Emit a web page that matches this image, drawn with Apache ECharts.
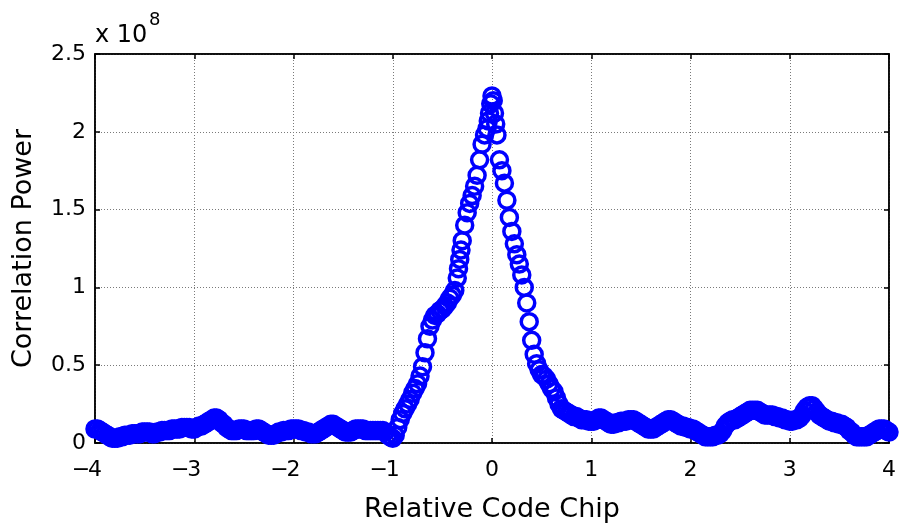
<!DOCTYPE html>
<html>
<head>
    <meta charset="utf-8">
    <title>Correlation Power</title>
    <script src="https://cdn.jsdelivr.net/npm/echarts@6/dist/echarts.min.js"></script>
    <style>
        html, body { margin: 0; padding: 0; background: #fff; }
        #main { width: 900px; height: 523px; }
    </style>
</head>
<body>
<div id="main"></div>
<script>
    // [chip, power / 1e8]
    var leftTail = [
        [-4.000, 0.09], [-3.975, 0.09], [-3.950, 0.08], [-3.925, 0.07], [-3.900, 0.06], [-3.875, 0.05],
        [-3.850, 0.04], [-3.825, 0.03], [-3.800, 0.03], [-3.775, 0.03], [-3.750, 0.04], [-3.725, 0.04],
        [-3.700, 0.05], [-3.675, 0.05], [-3.650, 0.05], [-3.625, 0.06], [-3.600, 0.06], [-3.575, 0.06],
        [-3.550, 0.06], [-3.525, 0.07], [-3.500, 0.07], [-3.475, 0.07], [-3.450, 0.07], [-3.425, 0.06],
        [-3.400, 0.06], [-3.375, 0.07], [-3.350, 0.07], [-3.325, 0.08], [-3.300, 0.08], [-3.275, 0.08],
        [-3.250, 0.08], [-3.225, 0.09], [-3.200, 0.09], [-3.175, 0.09], [-3.150, 0.09], [-3.125, 0.10],
        [-3.100, 0.10], [-3.075, 0.10], [-3.050, 0.10], [-3.025, 0.09], [-3.000, 0.09], [-2.975, 0.10],
        [-2.950, 0.11], [-2.925, 0.11], [-2.900, 0.12], [-2.875, 0.13], [-2.850, 0.14], [-2.825, 0.15],
        [-2.800, 0.16], [-2.775, 0.16], [-2.750, 0.15], [-2.725, 0.13], [-2.700, 0.12], [-2.675, 0.10],
        [-2.650, 0.09], [-2.625, 0.08], [-2.600, 0.08], [-2.575, 0.08], [-2.550, 0.09], [-2.525, 0.09],
        [-2.500, 0.09], [-2.475, 0.08], [-2.450, 0.08], [-2.425, 0.08], [-2.400, 0.08], [-2.375, 0.09],
        [-2.350, 0.09], [-2.325, 0.08], [-2.300, 0.07], [-2.275, 0.06], [-2.250, 0.05], [-2.225, 0.05],
        [-2.200, 0.05], [-2.175, 0.06], [-2.150, 0.07], [-2.125, 0.07], [-2.100, 0.08], [-2.075, 0.08],
        [-2.050, 0.08], [-2.025, 0.09], [-2.000, 0.09], [-1.975, 0.09], [-1.950, 0.09], [-1.925, 0.08],
        [-1.900, 0.08], [-1.875, 0.07], [-1.850, 0.07], [-1.825, 0.06], [-1.800, 0.06], [-1.775, 0.06],
        [-1.750, 0.07], [-1.725, 0.08], [-1.700, 0.09], [-1.675, 0.10], [-1.650, 0.11], [-1.625, 0.12],
        [-1.600, 0.12], [-1.575, 0.11], [-1.550, 0.10], [-1.525, 0.09], [-1.500, 0.08], [-1.475, 0.07],
        [-1.450, 0.07], [-1.425, 0.07], [-1.400, 0.08], [-1.375, 0.09], [-1.350, 0.09], [-1.325, 0.09],
        [-1.300, 0.09], [-1.275, 0.08], [-1.250, 0.08], [-1.225, 0.08], [-1.200, 0.08], [-1.175, 0.08],
        [-1.150, 0.08], [-1.125, 0.08], [-1.100, 0.08], [-1.075, 0.07], [-1.050, 0.05], [-1.025, 0.04]
    ];
    var mainLobe = [
        [-1.0000, 0.03], [-0.9750, 0.05], [-0.9500, 0.10], [-0.9250, 0.15], [-0.9000, 0.19], [-0.8750, 0.22],
        [-0.8500, 0.25], [-0.8250, 0.28], [-0.8000, 0.32], [-0.7750, 0.35], [-0.7500, 0.38], [-0.7250, 0.43],
        [-0.7000, 0.49], [-0.6750, 0.58], [-0.6500, 0.67], [-0.6250, 0.75], [-0.6000, 0.79], [-0.5750, 0.82],
        [-0.5500, 0.83], [-0.5250, 0.85], [-0.5000, 0.86], [-0.4750, 0.88], [-0.4500, 0.90], [-0.4250, 0.93],
        [-0.4000, 0.95], [-0.3750, 0.98], [-0.3500, 1.06], [-0.3375, 1.12], [-0.3250, 1.18], [-0.3125, 1.24],
        [-0.3000, 1.30], [-0.2750, 1.40], [-0.2500, 1.48], [-0.2250, 1.54], [-0.2000, 1.59], [-0.1750, 1.65],
        [-0.1500, 1.72], [-0.1250, 1.82], [-0.1000, 1.92], [-0.0750, 1.98], [-0.0500, 2.02], [-0.0375, 2.07],
        [-0.0250, 2.12], [-0.0125, 2.18], [0.0000, 2.23], [0.0125, 2.20], [0.0250, 2.12], [0.0375, 2.05],
        [0.0500, 1.98], [0.0750, 1.82], [0.1000, 1.75], [0.1250, 1.67], [0.1500, 1.56], [0.1750, 1.45],
        [0.2000, 1.36], [0.2250, 1.28], [0.2500, 1.21], [0.2750, 1.15], [0.3000, 1.08], [0.3250, 1.00],
        [0.3500, 0.90], [0.3750, 0.78], [0.4000, 0.66], [0.4250, 0.57], [0.4500, 0.51], [0.4750, 0.47],
        [0.5000, 0.44], [0.5250, 0.43], [0.5500, 0.41], [0.5750, 0.38], [0.6000, 0.35], [0.6250, 0.33],
        [0.6500, 0.29], [0.6750, 0.25], [0.7000, 0.22], [0.7250, 0.21], [0.7500, 0.20], [0.7750, 0.19],
        [0.8000, 0.18], [0.8250, 0.17], [0.8500, 0.17], [0.8750, 0.16], [0.9000, 0.15], [0.9250, 0.15],
        [0.9500, 0.15], [0.9750, 0.14], [1.0000, 0.14]
    ];
    var rightTail = [
        [1.025, 0.14], [1.050, 0.15], [1.075, 0.16], [1.100, 0.16], [1.125, 0.15], [1.150, 0.14],
        [1.175, 0.13], [1.200, 0.12], [1.225, 0.12], [1.250, 0.13], [1.275, 0.13], [1.300, 0.14],
        [1.325, 0.14], [1.350, 0.14], [1.375, 0.15], [1.400, 0.15], [1.425, 0.15], [1.450, 0.14],
        [1.475, 0.13], [1.500, 0.12], [1.525, 0.11], [1.550, 0.10], [1.575, 0.09], [1.600, 0.09],
        [1.625, 0.09], [1.650, 0.10], [1.675, 0.11], [1.700, 0.12], [1.725, 0.13], [1.750, 0.14],
        [1.775, 0.15], [1.800, 0.15], [1.825, 0.14], [1.850, 0.13], [1.875, 0.12], [1.900, 0.11],
        [1.925, 0.11], [1.950, 0.10], [1.975, 0.10], [2.000, 0.09], [2.025, 0.09], [2.050, 0.08],
        [2.075, 0.07], [2.100, 0.06], [2.125, 0.05], [2.150, 0.04], [2.175, 0.04], [2.200, 0.04],
        [2.225, 0.04], [2.250, 0.05], [2.275, 0.05], [2.300, 0.06], [2.325, 0.08], [2.350, 0.11],
        [2.375, 0.13], [2.400, 0.14], [2.425, 0.15], [2.450, 0.15], [2.475, 0.16], [2.500, 0.17],
        [2.525, 0.18], [2.550, 0.19], [2.575, 0.20], [2.600, 0.21], [2.625, 0.21], [2.650, 0.21],
        [2.675, 0.21], [2.700, 0.20], [2.725, 0.19], [2.750, 0.18], [2.775, 0.18], [2.800, 0.18],
        [2.825, 0.18], [2.850, 0.17], [2.875, 0.17], [2.900, 0.16], [2.925, 0.16], [2.950, 0.15],
        [2.975, 0.15], [3.000, 0.14], [3.025, 0.14], [3.050, 0.15], [3.075, 0.15], [3.100, 0.16],
        [3.125, 0.18], [3.150, 0.21], [3.175, 0.23], [3.200, 0.24], [3.225, 0.24], [3.250, 0.22],
        [3.275, 0.20], [3.300, 0.18], [3.325, 0.17], [3.350, 0.16], [3.375, 0.15], [3.400, 0.14],
        [3.425, 0.14], [3.450, 0.13], [3.475, 0.13], [3.500, 0.12], [3.525, 0.12], [3.550, 0.11],
        [3.575, 0.10], [3.600, 0.08], [3.625, 0.07], [3.650, 0.05], [3.675, 0.04], [3.700, 0.04],
        [3.725, 0.04], [3.750, 0.04], [3.775, 0.04], [3.800, 0.05], [3.825, 0.06], [3.850, 0.07],
        [3.875, 0.08], [3.900, 0.09], [3.925, 0.09], [3.950, 0.09], [3.975, 0.08], [4.000, 0.07]
    ];
    var xTicks = [-4, -3, -2, -1, 0, 1, 2, 3, 4];
    var yTicks = [0, 0.5, 1, 1.5, 2, 2.5];

    var allPoints = leftTail.concat(mainLobe, rightTail);

    var font = 'DejaVu Sans';
    var chart = echarts.init(document.getElementById('main'));

    // digit centred on the tick, minus sign hanging to the left (MATLAB style)
    function xLabelFmt(v) {
        if (v < 0) {
            return '{m|\u2212}{d|' + Math.abs(v) + '}{p|}';
        }
        return '{d|' + v + '}';
    }

    var gridLine = {show: true, lineStyle: {color: '#7a7a7a', width: 1, type: [1, 2]}};
    var innerTick = {show: true, inside: true, length: 5, lineStyle: {color: '#000', width: 1.5}};
    var blackLine = {show: true, onZero: false, lineStyle: {color: '#000', width: 1.5}};

    chart.setOption({
        animation: false,
        backgroundColor: '#fff',
        grid: {
            left: 95, top: 54, width: 794, height: 389,
            outerBoundsMode: 'none', containLabel: false,
            show: true, borderColor: '#000', borderWidth: 1.5
        },
        xAxis: [{
            type: 'value', min: xTicks[0], max: xTicks[xTicks.length - 1], interval: 1,
            position: 'bottom',
            name: 'Relative Code Chip', nameLocation: 'middle', nameGap: 53,
            nameTextStyle: {fontFamily: font, fontSize: 27, color: '#000'},
            axisLine: blackLine,
            axisTick: innerTick,
            axisLabel: {
                fontFamily: font, fontSize: 22, color: '#000', margin: 16, formatter: xLabelFmt,
                rich: {
                    m: {fontFamily: font, fontSize: 22, color: '#000', width: 14, align: 'center'},
                    d: {fontFamily: font, fontSize: 22, color: '#000'},
                    p: {width: 14}
                }
            },
            splitLine: gridLine
        }, {
            type: 'value', min: xTicks[0], max: xTicks[xTicks.length - 1], interval: 1,
            position: 'top',
            axisLine: blackLine,
            axisTick: innerTick,
            axisLabel: {show: false},
            splitLine: {show: false}
        }],
        yAxis: [{
            type: 'value', min: yTicks[0], max: yTicks[yTicks.length - 1], interval: 0.5,
            position: 'left',
            name: 'Correlation Power', nameLocation: 'middle', nameGap: 58, nameRotate: 90,
            nameTextStyle: {fontFamily: font, fontSize: 27, color: '#000'},
            axisLine: blackLine,
            axisTick: innerTick,
            axisLabel: {fontFamily: font, fontSize: 22, color: '#000', margin: 9},
            splitLine: gridLine
        }, {
            type: 'value', min: yTicks[0], max: yTicks[yTicks.length - 1], interval: 0.5,
            position: 'right',
            axisLine: blackLine,
            axisTick: innerTick,
            axisLabel: {show: false},
            splitLine: {show: false}
        }],
        graphic: [{
            type: 'text', left: 95, top: 24,
            style: {text: 'x 10', fontFamily: font, fontSize: 24, fill: '#000'}
        }, {
            type: 'text', left: 149, top: 11,
            style: {text: '8', fontFamily: font, fontSize: 18, fill: '#000'}
        }],
        series: [{
            type: 'scatter',
            data: allPoints,
            symbol: 'circle',
            symbolSize: 16,
            itemStyle: {color: 'rgba(0,0,0,0)', borderColor: '#0000ff', borderWidth: 3.5, opacity: 1}
        }]
    });
</script>
</body>
</html>
